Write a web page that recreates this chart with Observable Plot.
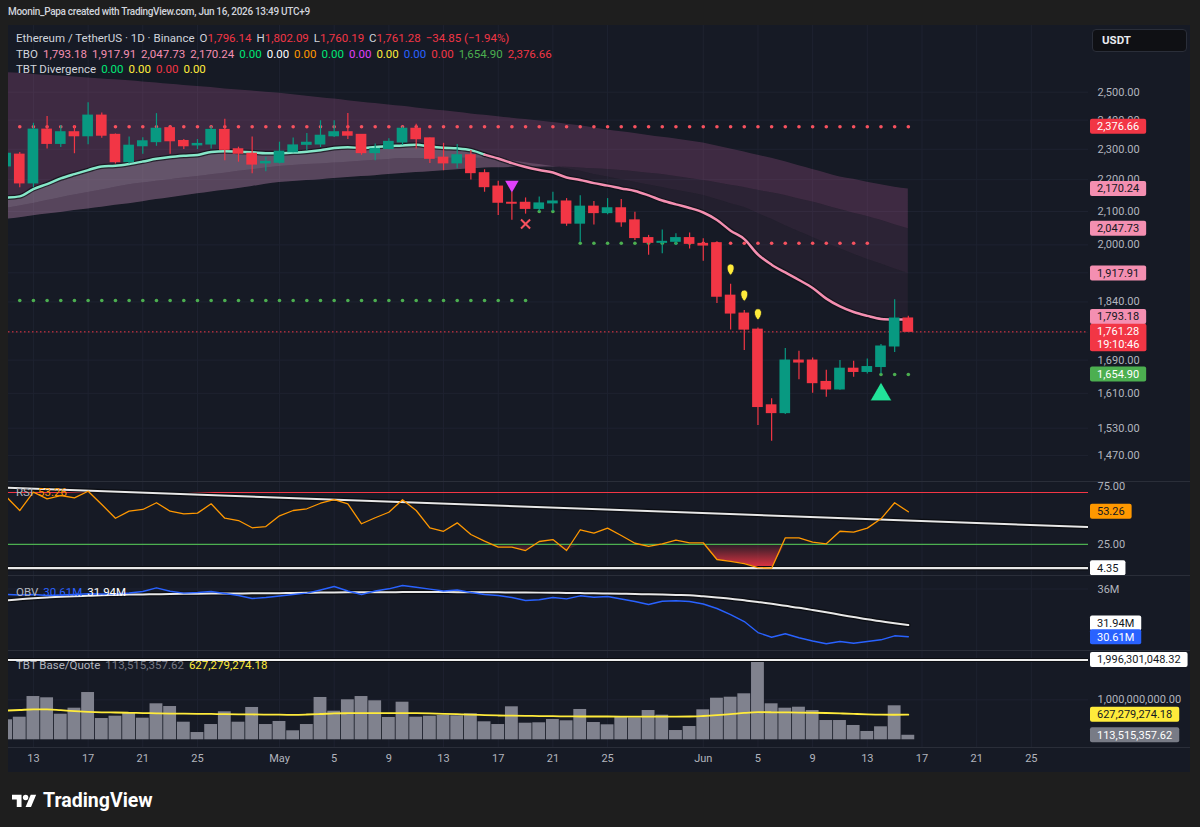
<!DOCTYPE html>
<html lang="en">
<head>
<meta charset="utf-8">
<title>Ethereum / TetherUS · 1D · Binance</title>
<script src="https://cdn.jsdelivr.net/npm/d3@7"></script>
<script src="https://cdn.jsdelivr.net/npm/@observablehq/plot@0.6"></script>
<style>
  html, body { margin: 0; padding: 0; }
  body { width: 1200px; height: 827px; background: #1e1e1e; position: relative; overflow: hidden;
         font-family: Roboto, "Noto Sans", sans-serif; color: #d1d4dc; }
  .abs { position: absolute; }
  #credit { left: 8px; top: 5px; font-size: 10px; font-weight: 500; letter-spacing: -0.3px; line-height: 14px; color: #d1d4dc; }
  #panel { left: 8px; top: 25px; width: 1182px; height: 747px; background: #161a25; }
  .pane { position: absolute; left: 8px; }
  .pane svg { display: block; }
  .legend { position: absolute; left: 16px; font-size: 11.5px; line-height: 14px; white-space: nowrap; color: #d1d4dc; }
  .legend span { margin-right: 5px; }
  .legend .g { color: #b2b5be; }
  .sep { position: absolute; left: 8px; width: 1182px; height: 1px; background: #2a2e39; }
  #usdt { left: 1092px; top: 29px; width: 93px; height: 21px; background: #0f1014; border: 1px solid #2a2e39;
          border-radius: 4px; font-size: 11.5px; font-weight: 700; color: #e8eaef; line-height: 21px; text-indent: 9px; }
  #brand { left: 12px; top: 789px; }
</style>
</head>
<body>
<div id="credit" class="abs">Moonin_Papa created with TradingView.com, Jun 16, 2026 13:49 UTC+9</div>
<div id="panel" class="abs"></div>

<div id="paneMain" class="pane" style="top:25px"></div>
<div id="paneRsi" class="pane" style="top:482px"></div>
<div id="paneObv" class="pane" style="top:576px"></div>
<div id="paneVol" class="pane" style="top:651px"></div>

<div class="sep" style="top:481px"></div>
<div class="sep" style="top:575px"></div>
<div class="sep" style="top:650px"></div>
<div class="sep" style="top:747px"></div>

<div class="legend" style="top:31px">
  <span>Ethereum / TetherUS · 1D · Binance</span><span>O<b style="font-weight:400;color:#f23645">1,796.14</b></span><span>H<b style="font-weight:400;color:#f23645">1,802.09</b></span><span>L<b style="font-weight:400;color:#f23645">1,760.19</b></span><span>C<b style="font-weight:400;color:#f23645">1,761.28</b></span><span style="color:#f23645">−34.85 (−1.94%)</span>
</div>
<div class="legend" style="top:47px">
  <span>TBO</span><span style="color:#f48fb1">1,793.18</span><span style="color:#f48fb1">1,917.91</span><span style="color:#f48fb1">2,047.73</span><span style="color:#f48fb1">2,170.24</span><span style="color:#00e676">0.00</span><span style="color:#ffffff">0.00</span><span style="color:#ff9800">0.00</span><span style="color:#00e676">0.00</span><span style="color:#e040fb">0.00</span><span style="color:#ffeb3b">0.00</span><span style="color:#2962ff">0.00</span><span style="color:#f23645">0.00</span><span style="color:#4caf50">1,654.90</span><span style="color:#f23645">2,376.66</span>
</div>
<div class="legend" style="top:62px">
  <span>TBT Divergence</span><span style="color:#00e676">0.00</span><span style="color:#ffeb3b">0.00</span><span style="color:#f23645">0.00</span><span style="color:#ffeb3b">0.00</span>
</div>
<div class="legend" style="top:485px"><span class="g">RSI</span><span style="color:#ff9800">53.26</span></div>
<div class="legend" style="top:585px"><span class="g">OBV</span><span style="color:#2962ff">30.61M</span><span style="color:#ffffff">31.94M</span></div>
<div class="legend" style="top:658px"><span class="g">TBT Base/Quote</span><span style="color:#787b86">113,515,357.62</span><span style="color:#ffeb3b">627,279,274.18</span></div>

<div id="usdt" class="abs">USDT</div>

<svg id="brand" class="abs" width="160" height="24" viewBox="0 0 160 24">
  <g transform="translate(0,3) scale(0.68)" fill="#ffffff">
    <path d="M14 22H7V11H0V4h14v18z"></path>
    <circle cx="20" cy="8" r="4"></circle>
    <path d="M28 22h-8l7.5-18h8L28 22z"></path>
  </g>
  <text x="31" y="17.5" fill="#ffffff" font-family="Roboto, sans-serif" font-size="19.5" font-weight="700">TradingView</text>
</svg>

<script>
// ---------------- data: ETH/USDT daily, Apr 11 – Jun 16 2026 ----------------
const firstDay = "2026-04-11";

const open = [
  2243, 2282, 2188, 2367, 2318, 2358, 2344, 2416, 2349, 2257,
  2310, 2324, 2372, 2328, 2313, 2316, 2366, 2300, 2285, 2253,
  2255, 2290, 2315, 2316, 2344, 2358, 2349, 2287, 2301, 2323,
  2370, 2337, 2272, 2253, 2280, 2221, 2178, 2127, 2127, 2108,
  2125, 2131, 2063, 2115, 2095, 2110, 2073, 2020, 2006, 2009,
  2020, 2003, 2005, 1857, 1809, 1767, 1582, 1564, 1689, 1689,
  1637, 1619, 1669, 1661, 1673, 1724, 1796.14
];
const high = [
  2300, 2289, 2389, 2413, 2381, 2381, 2462, 2425, 2352, 2342,
  2339, 2423, 2379, 2333, 2333, 2377, 2403, 2307, 2342, 2273,
  2324, 2338, 2354, 2398, 2398, 2423, 2350, 2318, 2336, 2376,
  2386, 2338, 2320, 2316, 2296, 2232, 2195, 2160, 2142, 2145,
  2160, 2140, 2149, 2131, 2140, 2137, 2098, 2028, 2044, 2033,
  2035, 2018, 2008, 1888, 1817, 1771, 1597, 1719, 1712, 1695,
  1665, 1689, 1687, 1693, 1729, 1846, 1802.09
];
const low = [
  2230, 2174, 2174, 2301, 2306, 2285, 2315, 2337, 2251, 2251,
  2283, 2310, 2283, 2299, 2299, 2301, 2262, 2257, 2219, 2226,
  2251, 2288, 2295, 2306, 2340, 2333, 2280, 2262, 2298, 2313,
  2301, 2253, 2229, 2235, 2199, 2160, 2088, 2073, 2092, 2100,
  2100, 2055, 2008, 2059, 2090, 2052, 2013, 1970, 1974, 1998,
  1988, 1953, 1836, 1766, 1714, 1536, 1501, 1561, 1642, 1610,
  1601, 1617, 1648, 1656, 1656, 1709, 1760.19
];
const close = [
  2285, 2188, 2367, 2318, 2358, 2344, 2416, 2346, 2257, 2312,
  2327, 2370, 2327, 2310, 2318, 2366, 2298, 2285, 2249, 2258,
  2292, 2313, 2322, 2346, 2358, 2346, 2287, 2301, 2325, 2370,
  2334, 2268, 2253, 2280, 2221, 2176, 2127, 2124, 2108, 2125,
  2131, 2063, 2115, 2095, 2110, 2067, 2020, 2006, 2009, 2020,
  2003, 1998, 1854, 1809, 1767, 1578, 1564, 1689, 1684, 1634,
  1619, 1669, 1661, 1673, 1724, 1796.14, 1761.28
];

// TBO moving-average ribbon: fast line and three slower boundaries
const tboFast = [
  2143, 2147, 2170, 2186, 2204, 2218, 2231, 2243, 2245, 2251,
  2259, 2268, 2274, 2278, 2281, 2291, 2293, 2292, 2290, 2287,
  2287, 2289, 2292, 2297, 2304, 2307, 2304, 2308, 2310, 2313,
  2315, 2309, 2305, 2303, 2297, 2282, 2269, 2254, 2241, 2231,
  2223, 2207, 2199, 2189, 2181, 2172, 2164, 2150, 2134, 2122,
  2111, 2097, 2074, 2042, 2017, 1972, 1943, 1921, 1900, 1878,
  1849, 1828, 1813, 1803, 1795, 1793.5, 1793.18
];
const tboMid = [
  2109, 2117, 2125, 2134, 2143, 2151, 2159, 2167, 2176, 2184,
  2189, 2195, 2200, 2205, 2210, 2216, 2221, 2227, 2232, 2238,
  2243, 2246, 2249, 2251, 2254, 2257, 2260, 2263, 2266, 2269,
  2269, 2269, 2270, 2270, 2270, 2270, 2270, 2262, 2255, 2249,
  2243, 2235, 2227, 2217, 2209, 2200, 2192, 2183, 2175, 2166,
  2158, 2150, 2137, 2124, 2112, 2094, 2076, 2057, 2039, 2022,
  2004, 1989, 1973, 1958, 1945, 1931, 1917.91
];
const tboSlow = [
  2076, 2081, 2087, 2092, 2097, 2103, 2108, 2113, 2119, 2124,
  2130, 2137, 2143, 2149, 2155, 2161, 2166, 2172, 2178, 2185,
  2191, 2194, 2197, 2200, 2204, 2207, 2210, 2213, 2217, 2220,
  2223, 2226, 2229, 2232, 2235, 2238, 2239, 2240, 2241, 2241,
  2241, 2240, 2238, 2235, 2233, 2230, 2226, 2221, 2217, 2210,
  2204, 2197, 2190, 2182, 2175, 2166, 2158, 2150, 2139, 2129,
  2118, 2106, 2095, 2085, 2073, 2060, 2047.73
];
const tboLong = [
  2573, 2570, 2566, 2563, 2560, 2556, 2552, 2549, 2546, 2542,
  2538, 2534, 2529, 2525, 2521, 2517, 2512, 2508, 2504, 2500,
  2496, 2491, 2485, 2480, 2475, 2469, 2464, 2459, 2454, 2449,
  2443, 2438, 2433, 2428, 2422, 2417, 2412, 2407, 2402, 2397,
  2392, 2386, 2380, 2373, 2366, 2360, 2354, 2347, 2341, 2335,
  2328, 2321, 2311, 2301, 2291, 2280, 2270, 2258, 2245, 2233,
  2221, 2209, 2201, 2192, 2184, 2176, 2170.24
];

// support / resistance dot rows: [first day, last day, price, kind]
const levelRows = [
  ["2026-04-12", "2026-06-16", 2376.66, "res"],
  ["2026-04-12", "2026-05-19", 1844, "sup"],
  ["2026-05-20", "2026-05-21", 2100, "sup"],
  ["2026-05-23", "2026-05-31", 2005, "sup"],
  ["2026-06-01", "2026-06-13", 2005, "res"],
  ["2026-06-14", "2026-06-16", 1654.90, "sup"]
];
// signal markers: [day, price, kind]
const signalRows = [
  ["2026-05-18", 2184, "bearTriangle"],
  ["2026-05-19", 2062, "cross"],
  ["2026-06-03", 1929, "drop"],
  ["2026-06-04", 1857, "drop"],
  ["2026-06-05", 1807, "drop"],
  ["2026-06-14", 1607, "bullTriangle"]
];

const rsi = [
  66.5, 54.4, 70.3, 64.5, 67.4, 65.4, 71.1, 59.6, 47.7, 53.8,
  55.3, 61.1, 53.8, 51.5, 52.1, 60.2, 47.7, 45.7, 39.4, 40.5,
  49.8, 54.4, 55.9, 60.7, 63.9, 60.2, 42.9, 48.1, 52.9, 63.7,
  54.4, 39.4, 36.4, 43.7, 33.6, 27.8, 22.6, 22.6, 19.7, 27.5,
  29.2, 19.7, 37.7, 34.7, 39.1, 32.7, 26.0, 23.2, 25.5, 28.8,
  26.4, 26.4, 11.9, 10.2, 8.4, 4.9, 4.35, 30.7, 30.7, 26.9,
  25.5, 36.4, 35.6, 39.1, 47.2, 61.1, 53.26
];
const rsiTrend = [["2026-04-11", 74.2], ["2026-06-30", 39.7]];
const rsiUpper = 70, rsiLower = 25, rsiFloor = 4.35;

// on-balance volume, millions
const obv = [
  35.38, 35.32, 35.38, 35.27, 35.32, 35.38, 35.46, 35.44, 35.46, 35.55,
  35.72, 36.13, 35.75, 35.53, 35.60, 35.72, 35.49, 35.27, 34.93, 35.04,
  35.21, 35.38, 35.53, 35.89, 36.28, 35.77, 35.38, 35.77, 36.02, 36.39,
  36.20, 35.98, 35.77, 35.89, 35.60, 35.38, 35.27, 35.04, 34.70, 34.78,
  35.04, 34.89, 35.23, 35.07, 35.15, 34.87, 34.59, 34.25, 34.62, 34.68,
  34.59, 34.31, 33.80, 33.12, 32.33, 31.09, 30.56, 30.95, 30.50, 30.14,
  29.82, 30.08, 29.89, 30.08, 30.27, 30.72, 30.61
];
const obvSignal = [
  34.70, 34.84, 34.95, 35.04, 35.12, 35.19, 35.24, 35.29, 35.33, 35.37,
  35.39, 35.41, 35.44, 35.46, 35.47, 35.48, 35.49, 35.50, 35.51, 35.51,
  35.53, 35.56, 35.58, 35.60, 35.61, 35.62, 35.63, 35.64, 35.64, 35.65,
  35.65, 35.65, 35.65, 35.64, 35.64, 35.63, 35.62, 35.61, 35.60, 35.59,
  35.58, 35.56, 35.54, 35.51, 35.49, 35.47, 35.44, 35.40, 35.37, 35.33,
  35.30, 35.18, 35.05, 34.91, 34.72, 34.53, 34.33, 34.10, 33.88, 33.63,
  33.37, 33.10, 32.84, 32.58, 32.36, 32.14, 31.94
];

// quote volume (USDT) and its moving average
const volume = [
  500e6, 565e6, 1082e6, 1050e6, 640e6, 790e6, 1182e6, 532e6, 590e6, 675e6,
  540e6, 900e6, 832e6, 440e6, 182e6, 382e6, 700e6, 440e6, 808e6, 382e6,
  458e6, 225e6, 382e6, 1058e6, 715e6, 1000e6, 1082e6, 975e6, 558e6, 940e6,
  565e6, 590e6, 608e6, 600e6, 650e6, 450e6, 382e6, 825e6, 415e6, 425e6,
  508e6, 475e6, 758e6, 432e6, 375e6, 582e6, 550e6, 732e6, 615e6, 232e6,
  332e6, 750e6, 1040e6, 1065e6, 1150e6, 1996301048.32, 900e6, 790e6, 815e6, 732e6,
  482e6, 482e6, 358e6, 208e6, 325e6, 850e6, 113515357.62
];
const volumeMA = [
  730e6, 745e6, 760e6, 760e6, 740e6, 718e6, 700e6, 688e6, 682e6, 675e6,
  668e6, 662e6, 656e6, 652e6, 649e6, 646e6, 641e6, 637e6, 634e6, 630e6,
  627e6, 625e6, 632e6, 645e6, 660e6, 665e6, 667e6, 667e6, 666e6, 665e6,
  665e6, 660e6, 650e6, 640e6, 630e6, 618e6, 608e6, 602e6, 598e6, 594e6,
  590e6, 586e6, 583e6, 582e6, 582e6, 581e6, 580e6, 580e6, 581e6, 581e6,
  582e6, 595e6, 615e6, 640e6, 672e6, 690e6, 688e6, 685e6, 680e6, 676e6,
  670e6, 660e6, 648e6, 636e6, 628e6, 626e6, 627279274.18
];
const volumeMax = 1996301048.32;

// axis ticks
const timeTickDays = ["2026-04-13", "2026-04-17", "2026-04-21", "2026-04-25", "2026-05-01", "2026-05-05",
  "2026-05-09", "2026-05-13", "2026-05-17", "2026-05-21", "2026-05-25", "2026-06-01", "2026-06-05",
  "2026-06-09", "2026-06-13", "2026-06-17", "2026-06-21", "2026-06-25"];
const priceGrid = [2500, 2400, 2300, 2200, 2100, 2000, 1920, 1840, 1760, 1690, 1610, 1530, 1470];
const priceLabels = [2500, 2400, 2300, 2200, 2100, 2000, 1840, 1690, 1610, 1530, 1470];
const lastPrice = 1761.28, countdown = "19:10:46";

// ---------------- drawing ----------------
const FONT = "Roboto, 'Noto Sans', sans-serif";
const TXT = "#b2b5be";
const GRID = "#1e2230";
const UP = "#089981", DOWN = "#f23645";
const TEAL = "#86e7c9", PINK = "#f48fb1";
const MAUVE = "#c0629f", HAZE = "#bcb6c6";
const DAY = 864e5;
const W = 1182, MR = 102;

const day = s => new Date(s + "T00:00:00Z");
const t0 = +day(firstDay);
const dates = open.map((_, i) => new Date(t0 + i * DAY));
const may1 = +day("2026-05-01");
const xDomain = [new Date(may1 - 19.824 * DAY), new Date(may1 + 59.18 * DAY)];
const timeTicks = timeTickDays.map(day);
const fmt2 = d3.format(",.2f");

const baseStyle = {background: "transparent", color: TXT, fontFamily: FONT, fontSize: "11px", overflow: "visible"};
const xScale = {type: "utc", domain: xDomain, axis: null};

const measure = document.createElement("canvas").getContext("2d");
function textWidth(s) { measure.font = "11px Roboto"; return measure.measureText(s).width; }

// price-scale tags drawn in the right margin at a value of the pane's y scale
function tagMark(list) {
  return (index, scales, values, dim) => {
    const g = d3.create("svg:g").attr("font-family", FONT).attr("font-size", 11).attr("text-anchor", "start");
    const x = dim.width - dim.marginRight + 2;
    for (const t of list) {
      const cy = scales.y(t.value) + (t.dy || 0);
      const h = 15 + (t.lines.length - 1) * 12.5;
      const w = Math.max(...t.lines.map(textWidth)) + 14;
      g.append("rect").attr("x", x).attr("y", cy - 7.5).attr("width", w).attr("height", h)
        .attr("rx", 2).attr("fill", t.bg);
      t.lines.forEach((s, k) => g.append("text").attr("x", x + 7).attr("y", cy + k * 12.5)
        .attr("dy", "0.35em").attr("fill", t.fg).text(s));
    }
    return g.node();
  };
}

const bars = dates.map((date, i) => ({date, o: open[i], h: high[i], l: low[i], c: close[i], up: close[i] >= open[i]}));
const cloud = dates.map((date, i) => ({date, f: tboFast[i], m: tboMid[i], s: tboSlow[i], l: tboLong[i]}));

// fast line split into runs coloured by its position against the mid line
const fastRuns = [];
let run = 0;
cloud.forEach((d, i) => {
  const bull = d.f >= d.m;
  if (i > 0 && bull !== (cloud[i - 1].f >= cloud[i - 1].m)) {
    run++;
    fastRuns.push({date: cloud[i - 1].date, v: cloud[i - 1].f, run, bull});
  }
  fastRuns.push({date: d.date, v: d.f, run, bull});
});

const levelDots = levelRows.flatMap(([a, b, price, kind]) =>
  d3.utcDays(day(a), new Date(+day(b) + 1)).map(date => ({date, price, kind})));
const signals = signalRows.map(([d, price, kind]) => ({date: day(d), price, kind}));

const dropSymbol = {
  draw(ctx, size) {
    const r = Math.sqrt(size / Math.PI);
    const w = r * 0.62, h = r;
    ctx.moveTo(0, h);
    ctx.bezierCurveTo(-w * 1.35, h * 0.25, -w * 1.35, -h, 0, -h);
    ctx.bezierCurveTo(w * 1.35, -h, w * 1.35, h * 0.25, 0, h);
    ctx.closePath();
  }
};

const main = Plot.plot({
  width: W, height: 456, marginLeft: 0, marginRight: MR, marginTop: 0, marginBottom: 0,
  style: baseStyle,
  x: xScale,
  y: {type: "log", domain: [1415.3, 2756.0], axis: null},
  marks: [
    Plot.ruleX(timeTicks, {stroke: GRID}),
    Plot.ruleY(priceGrid, {stroke: GRID}),
    // ribbon
    Plot.areaY(cloud, {x: "date", y1: "s", y2: "l", fill: MAUVE, fillOpacity: 0.24, curve: "monotone-x", clip: true}),
    Plot.areaY(cloud, {x: "date", y1: "s", y2: d => Math.max(d.m, d.s), fill: HAZE, fillOpacity: 0.2, curve: "monotone-x", clip: true}),
    Plot.areaY(cloud, {x: "date", y1: d => Math.min(d.m, d.s), y2: "s", fill: MAUVE, fillOpacity: 0.13, curve: "monotone-x", clip: true}),
    Plot.areaY(cloud, {x: "date", y1: "m", y2: d => Math.max(d.f, d.m), fill: HAZE, fillOpacity: 0.3, curve: "monotone-x", clip: true}),
    Plot.areaY(cloud, {x: "date", y1: d => Math.min(d.f, d.m), y2: "m", fill: MAUVE, fillOpacity: 0.08, curve: "monotone-x", clip: true}),
    Plot.line(fastRuns, {x: "date", y: "v", z: "run", stroke: "#0d0f15", strokeOpacity: 0.7, strokeWidth: 5, curve: "monotone-x", clip: true}),
    Plot.line(fastRuns.filter(d => d.bull), {x: "date", y: "v", z: "run", stroke: TEAL, strokeWidth: 2.5, curve: "monotone-x", clip: true}),
    Plot.line(fastRuns.filter(d => !d.bull), {x: "date", y: "v", z: "run", stroke: PINK, strokeWidth: 2.5, curve: "monotone-x", clip: true}),
    // level dots
    Plot.dot(levelDots, {x: "date", y: "price", r: 1.8, fill: d => d.kind === "res" ? "#f7525f" : "#4caf50", stroke: null, clip: true}),
    // last price
    Plot.ruleY([lastPrice], {stroke: DOWN, strokeDasharray: "1.5,2.5"}),
    // candles
    Plot.ruleX(bars, {x: "date", y1: "l", y2: "h", stroke: d => d.up ? UP : DOWN, strokeWidth: 1.2, clip: true}),
    Plot.rect(bars, {
      x1: d => new Date(+d.date - 0.39 * DAY), x2: d => new Date(+d.date + 0.39 * DAY),
      y1: "o", y2: "c", insetTop: -0.5, insetBottom: -0.5,
      fill: d => d.up ? UP : DOWN, clip: true
    }),
    // signals
    Plot.dot(signals.filter(d => d.kind === "bearTriangle"), {x: "date", y: "price", symbol: "triangle", rotate: 180, r: 5, fill: "#e040fb", stroke: null}),
    Plot.dot(signals.filter(d => d.kind === "cross"), {x: "date", y: "price", symbol: "times", r: 4.2, stroke: "#f7525f", strokeWidth: 2}),
    Plot.dot(signals.filter(d => d.kind === "drop"), {x: "date", y: "price", symbol: dropSymbol, r: 5.6, fill: "#ffeb3b", stroke: "#161a25", strokeWidth: 0.8}),
    Plot.dot(signals.filter(d => d.kind === "bullTriangle"), {x: "date", y: "price", symbol: "triangle", r: 8, fill: "#22e39a", stroke: "#0d0f15", strokeWidth: 0.6}),
    // price scale
    Plot.axisY({anchor: "right", ticks: priceLabels, tickFormat: fmt2, tickSize: 0, tickPadding: 9, label: null}),
    tagMark([
      {value: 2376.66, lines: ["2,376.66"], bg: "#f23645", fg: "#ffffff"},
      {value: tboLong[tboLong.length - 1], lines: [fmt2(tboLong[tboLong.length - 1])], bg: PINK, fg: "#131722"},
      {value: tboSlow[tboSlow.length - 1], lines: [fmt2(tboSlow[tboSlow.length - 1])], bg: PINK, fg: "#131722"},
      {value: tboMid[tboMid.length - 1], lines: [fmt2(tboMid[tboMid.length - 1])], bg: PINK, fg: "#131722"},
      {value: tboFast[tboFast.length - 1], lines: [fmt2(tboFast[tboFast.length - 1])], bg: PINK, fg: "#131722", dy: -2.5},
      {value: lastPrice, lines: [fmt2(lastPrice), countdown], bg: DOWN, fg: "#ffffff"},
      {value: 1654.90, lines: ["1,654.90"], bg: "#4caf50", fg: "#ffffff"}
    ])
  ]
});
document.getElementById("paneMain").append(main);

// RSI pane
const rsiRows = dates.map((date, i) => ({date, v: rsi[i]}));
const trendRows = rsiTrend.map(([d, v]) => ({date: day(d), v}));
const rsiPlot = Plot.plot({
  width: W, height: 93, marginLeft: 0, marginRight: MR, marginTop: 0, marginBottom: 0,
  style: baseStyle,
  x: xScale,
  y: {domain: [-1.973, 78.686], axis: null},
  marks: [
    Plot.ruleX(timeTicks, {stroke: GRID}),
    (index, scales) => {
      const g = d3.create("svg:g");
      const lg = g.append("defs").append("linearGradient").attr("id", "rsiOversold")
        .attr("gradientUnits", "userSpaceOnUse").attr("x1", 0).attr("x2", 0)
        .attr("y1", scales.y(rsiLower)).attr("y2", scales.y(rsiFloor));
      lg.append("stop").attr("offset", 0).attr("stop-color", "#f23645").attr("stop-opacity", 0.08);
      lg.append("stop").attr("offset", 1).attr("stop-color", "#f23645").attr("stop-opacity", 0.95);
      return g.node();
    },
    Plot.areaY(rsiRows, {x: "date", y1: rsiLower, y2: d => Math.min(d.v, rsiLower), fill: "url(#rsiOversold)", clip: true}),
    Plot.ruleY([rsiUpper], {stroke: "#f23645", strokeWidth: 1.2}),
    Plot.ruleY([rsiLower], {stroke: "#4caf50", strokeWidth: 1.4}),
    Plot.ruleY([rsiFloor], {stroke: "#0b0d12", strokeWidth: 4.5}),
    Plot.ruleY([rsiFloor], {stroke: "#e8e8e8", strokeWidth: 2.2}),
    Plot.line(trendRows, {x: "date", y: "v", stroke: "#0b0d12", strokeWidth: 4.5, clip: true}),
    Plot.line(trendRows, {x: "date", y: "v", stroke: "#e8e8e8", strokeWidth: 2, clip: true}),
    Plot.line(rsiRows, {x: "date", y: "v", stroke: "#ff9800", strokeWidth: 1.3, clip: true}),
    Plot.axisY({anchor: "right", ticks: [75, 25], tickFormat: d3.format(".2f"), tickSize: 0, tickPadding: 9, label: null}),
    tagMark([
      {value: rsi[rsi.length - 1], lines: ["53.26"], bg: "#ff9800", fg: "#131722"},
      {value: rsiFloor, lines: ["4.35"], bg: "#ffffff", fg: "#131722"}
    ])
  ]
});
document.getElementById("paneRsi").append(rsiPlot);

// OBV pane
const obvRows = dates.map((date, i) => ({date, v: obv[i], s: obvSignal[i]}));
const obvPlot = Plot.plot({
  width: W, height: 74, marginLeft: 0, marginRight: MR, marginTop: 0, marginBottom: 0,
  style: baseStyle,
  x: xScale,
  y: {domain: [29.065, 37.408], axis: null},
  marks: [
    Plot.ruleX(timeTicks, {stroke: GRID}),
    Plot.ruleY([36], {stroke: GRID}),
    Plot.line(obvRows, {x: "date", y: "s", stroke: "#0b0d12", strokeWidth: 4.5, clip: true, curve: "monotone-x"}),
    Plot.line(obvRows, {x: "date", y: "s", stroke: "#e8e8e8", strokeWidth: 2, clip: true, curve: "monotone-x"}),
    Plot.line(obvRows, {x: "date", y: "v", stroke: "#2962ff", strokeWidth: 1.4, clip: true}),
    Plot.axisY({anchor: "right", ticks: [36], tickFormat: d => d + "M", tickSize: 0, tickPadding: 9, label: null}),
    tagMark([
      {value: obvSignal[obvSignal.length - 1], lines: ["31.94M"], bg: "#ffffff", fg: "#131722", dy: -1.5},
      {value: obv[obv.length - 1], lines: ["30.61M"], bg: "#2962ff", fg: "#ffffff", dy: 0.5}
    ])
  ]
});
document.getElementById("paneObv").append(obvPlot);

// volume pane with the time axis
const volRows = dates.map((date, i) => ({date, v: volume[i], ma: volumeMA[i]}));
const volPlot = Plot.plot({
  width: W, height: 121, marginLeft: 0, marginRight: MR, marginTop: 0, marginBottom: 25,
  style: baseStyle,
  x: xScale,
  y: {domain: [-0.1925e9, 2.2075e9], axis: null},
  marks: [
    Plot.ruleX(timeTicks, {stroke: GRID}),
    Plot.ruleY([1e9], {stroke: GRID}),
    Plot.rect(volRows, {
      x1: d => new Date(+d.date - 0.47 * DAY), x2: d => new Date(+d.date + 0.47 * DAY),
      y1: 0, y2: "v", fill: "#80828e", clip: true
    }),
    Plot.ruleY([volumeMax], {stroke: "#0b0d12", strokeWidth: 4}),
    Plot.ruleY([volumeMax], {stroke: "#eeeeee", strokeWidth: 2}),
    Plot.line(volRows, {x: "date", y: "ma", stroke: "#ffeb3b", strokeWidth: 1.8, curve: "monotone-x", clip: true}),
    Plot.axisY({anchor: "right", ticks: [1e9], tickFormat: fmt2, tickSize: 0, tickPadding: 9, label: null}),
    Plot.axisX({anchor: "bottom", ticks: timeTicks, tickSize: 0, tickPadding: 7, label: null,
      tickFormat: d => d.getUTCDate() === 1 ? d3.utcFormat("%b")(d) : String(d.getUTCDate())}),
    tagMark([
      {value: volumeMax, lines: [fmt2(volumeMax)], bg: "#ffffff", fg: "#131722"},
      {value: volumeMA[volumeMA.length - 1], lines: [fmt2(volumeMA[volumeMA.length - 1])], bg: "#ffeb3b", fg: "#131722"},
      {value: volume[volume.length - 1], lines: [fmt2(volume[volume.length - 1])], bg: "#787b86", fg: "#ffffff"}
    ])
  ]
});
document.getElementById("paneVol").append(volPlot);
</script>
</body>
</html>
